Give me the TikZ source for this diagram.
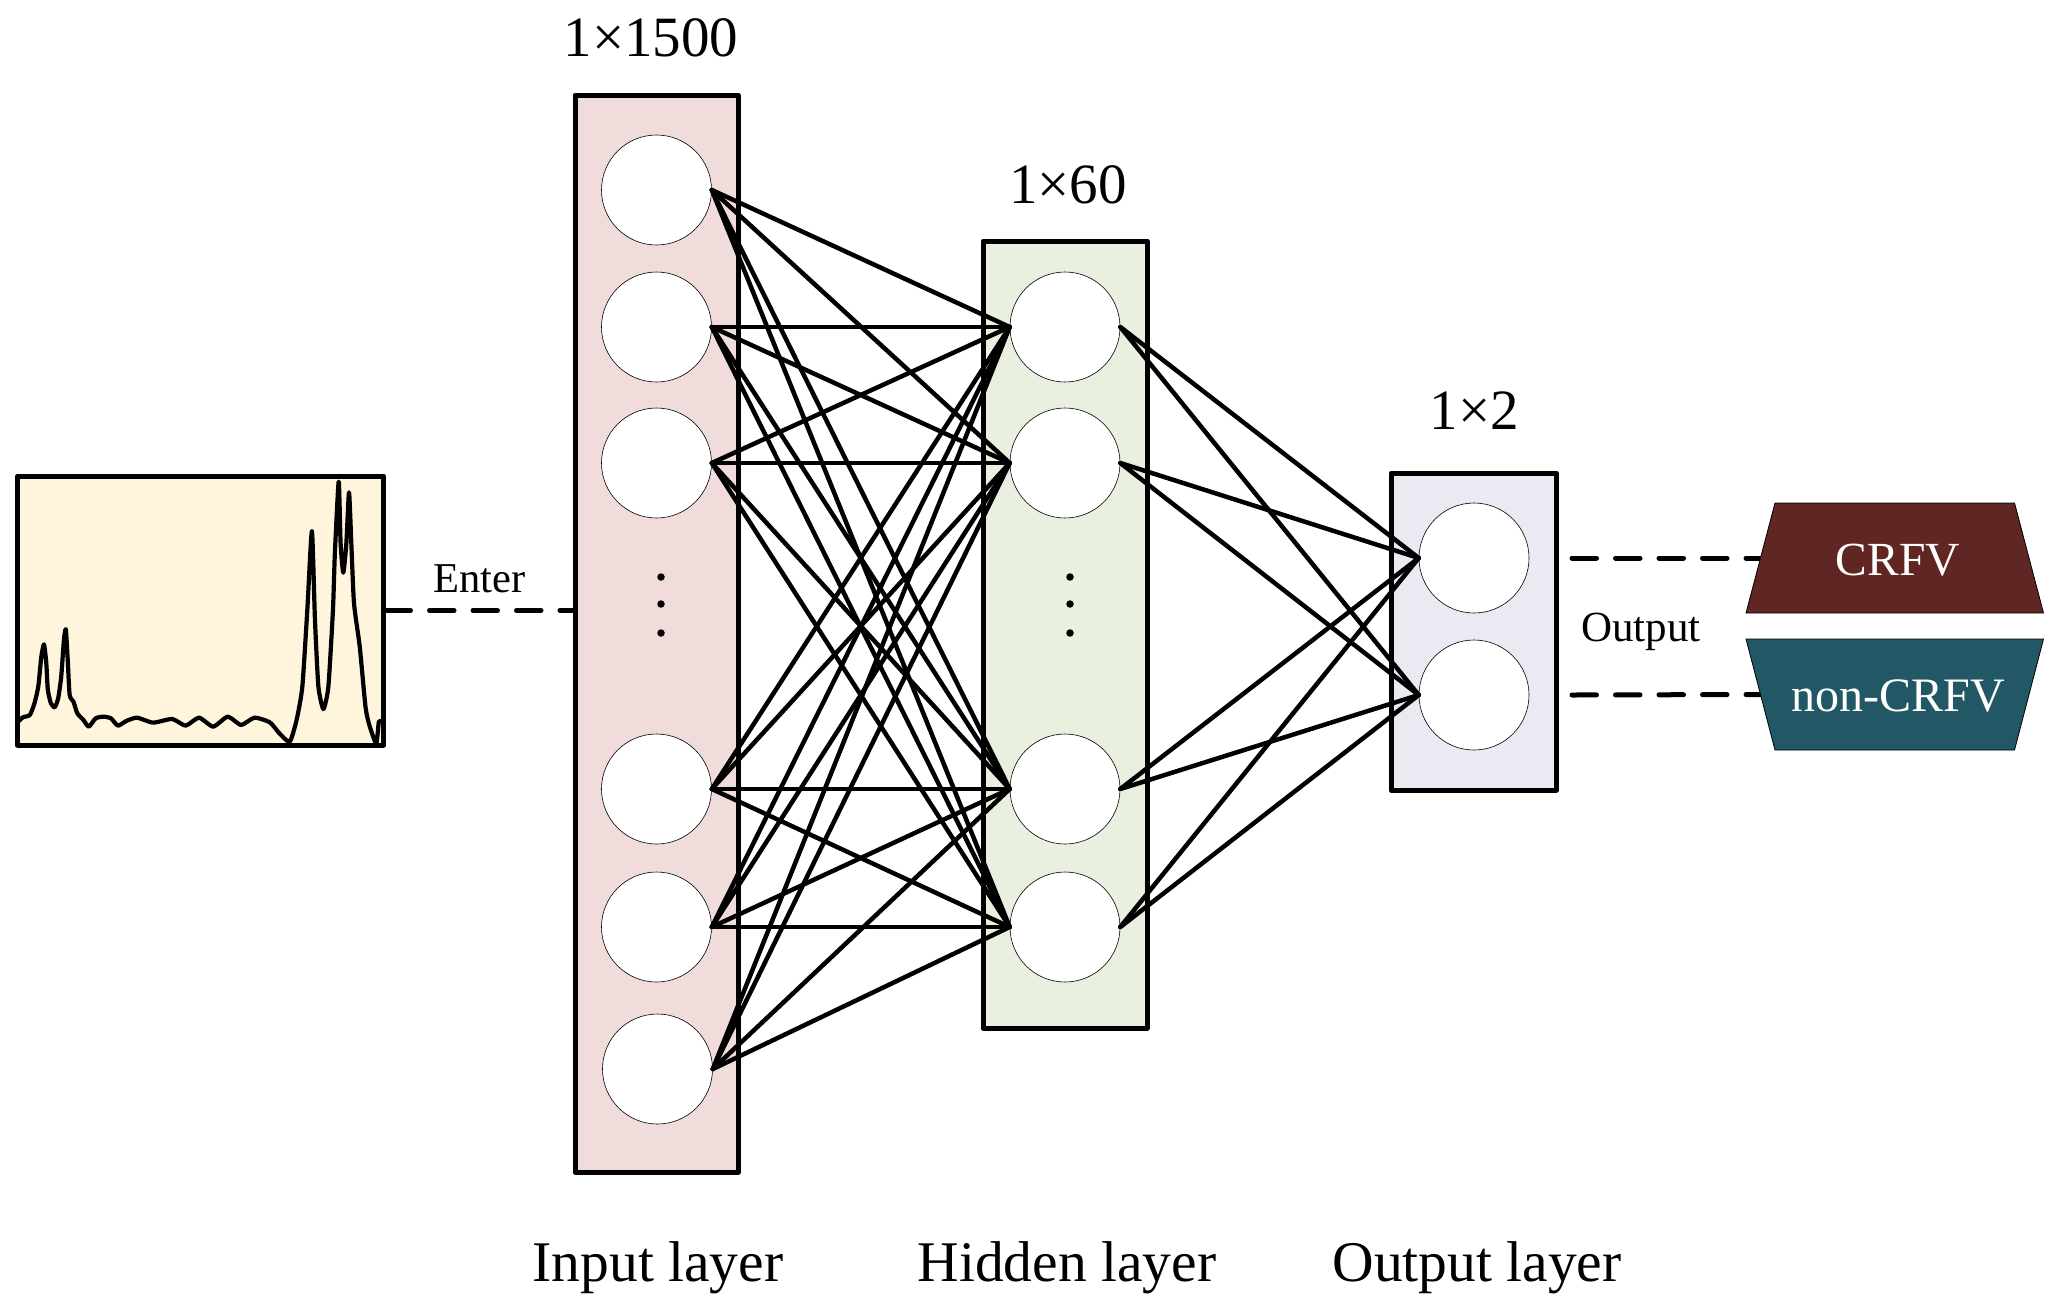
\documentclass[tikz,border=0pt]{standalone}
\usepackage{fontspec}
\setmainfont{Liberation Serif}
\newcommand{\fs}[1]{\fontsize{#1pt}{#1pt}\selectfont}
\tikzset{
  layerbox/.style={draw=black,line width=5pt,line join=round,rectangle,inner sep=0pt,minimum width=#1},
  neuron/.style={draw=black,line width=0.6pt,fill=white,circle,inner sep=0pt,minimum size=110pt},
  edge/.style={draw=black,line width=4.5pt,line cap=round},
  dash link/.style={draw=black,line width=5pt,line cap=round,dash pattern=on 24.5pt off 19pt},
  lbl/.style={anchor=base,inner sep=0pt,text=black},
  pdot/.style={circle,fill=black,inner sep=0pt,minimum size=7.5pt},
  klassbody/.style={rectangle,inner sep=0pt,minimum width=268.5pt,minimum height=110pt},
  klasspoly/.style={draw=black,line width=0.8pt,line join=miter},
  klasstext/.style={anchor=base,inner sep=0pt,text=white,font=\fs{47.5}}
}
\definecolor{inpink}{HTML}{F0DCDA}
\definecolor{hidgreen}{HTML}{EAF0DF}
\definecolor{outlav}{HTML}{EBE9F1}
\definecolor{specyel}{HTML}{FFF4DC}
\definecolor{maroon}{HTML}{602623}
\definecolor{teal}{HTML}{225866}
\begin{document}
\begin{tikzpicture}[x=1pt,y=-1pt]
\useasboundingbox (0,0) rectangle (2059,1302);
% spectrum
\node[layerbox=366pt,fill=specyel,minimum height=269pt] (spec) at (200.5,610.5) {};
\begin{scope}[shift={(0,460)},x=0.3827pt,y=-0.3333pt]
\draw[line width=4.2pt,line join=round,black] plot[smooth,tension=0.35] coordinates {(48,785)(60,772)(78,765)(90,730)(100,680)(108,590)(115,553)(121,610)(125,690)(133,730)(143,742)(152,715)(160,650)(167,540)(172,508)(177,600)(182,705)(192,725)(202,760)(218,780)(232,800)(250,775)(270,770)(290,775)(308,797)(330,783)(358,773)(400,788)(450,777)(485,797)(520,773)(557,800)(595,770)(630,795)(665,773)(705,787)(730,820)(757,845)(775,780)(790,680)(803,450)(815,213)(823,480)(832,680)(845,747)(858,680)(870,450)(875,280)(885,65)(890,250)(897,338)(905,250)(912,97)(918,250)(925,430)(940,560)(955,740)(965,795)(983,850)(990,785)(998,785)};
\end{scope}
% layer boxes
\node[layerbox=163pt,fill=inpink,minimum height=1077pt] (inbox) at (656.5,633.5) {};
\node[layerbox=164pt,fill=hidgreen,minimum height=787pt] (hidbox) at (1065,634.5) {};
\node[layerbox=165pt,fill=outlav,minimum height=317pt] (outbox) at (1473.5,631.5) {};
% neurons
\node[neuron] (i1) at (656.5,190) {};
\node[neuron] (i2) at (656.5,327) {};
\node[neuron] (i3) at (656.5,463) {};
\node[neuron] (i4) at (656.5,789) {};
\node[neuron] (i5) at (656.5,927) {};
\node[neuron] (i6) at (657.5,1069) {};
\node[neuron] (g1) at (1065,327) {};
\node[neuron] (g2) at (1065,463) {};
\node[neuron] (g3) at (1065,789) {};
\node[neuron] (g4) at (1065,927) {};
\node[neuron] (o1) at (1474,558) {};
\node[neuron] (o2) at (1474,695) {};
% ellipsis dots
\node[pdot] (a1) at (661,577) {};
\node[pdot] (a2) at (661,604) {};
\node[pdot] (a3) at (661,633) {};
\node[pdot] (b1) at (1070,577) {};
\node[pdot] (b2) at (1070,604) {};
\node[pdot] (b3) at (1070,633) {};
% connections
\foreach \a in {1,...,6}\foreach \b in {1,...,4}{\draw[edge] (i\a.east) -- (g\b.west);}
\foreach \a in {1,...,4}\foreach \b in {1,2}{\draw[edge] (g\a.east) -- (o\b.west);}
% classes
\node[klassbody] (crfv) at (1894.75,558) {};
\node[klassbody] (ncrfv) at (1894.75,694.5) {};
% dashed links
\coordinate (ds1) at (1572,558);
\coordinate (ds2) at (1572,695);
\coordinate (ent) at (inbox.west |- spec.east);
\draw[dash link] (spec.east) -- (ent);
\draw[dash link] (ds1) -- (crfv.west);
\draw[dash link] (ds2) -- (ncrfv.west);
\fill[klasspoly,fill=maroon] (1775,503) -- (2014.5,503) -- (2043.5,613) -- (1746,613) -- cycle;
\fill[klasspoly,fill=teal] (1746,639) -- (2043.5,639) -- (2014.5,750) -- (1775,750) -- cycle;
\node[klasstext] (tcrfv) at (1898,575.5) {CRFV};
\node[klasstext,font=\fs{48}] (tncrfv) at (1898,711) {non-CRFV};
% labels
\node[lbl,font=\fs{42.5}] (tenter) at (479.5,592.7) {Enter};
\node[lbl,font=\fs{43}] (toutput) at (1641,641) {Output};
\node[lbl,font=\fs{57}] (t1) at (651,56) {1×1500};
\node[lbl,font=\fs{57}] (t2) at (1068,203) {1×60};
\node[lbl,font=\fs{57}] (t3) at (1474.5,429) {1×2};
\node[lbl,font=\fs{57.5}] (t4) at (658,1281.7) {Input layer};
\node[lbl,font=\fs{57.5}] (t5) at (1067,1281.7) {Hidden layer};
\node[lbl,font=\fs{57.5}] (t6) at (1477,1281.7) {Output layer};
\end{tikzpicture}
\end{document}
